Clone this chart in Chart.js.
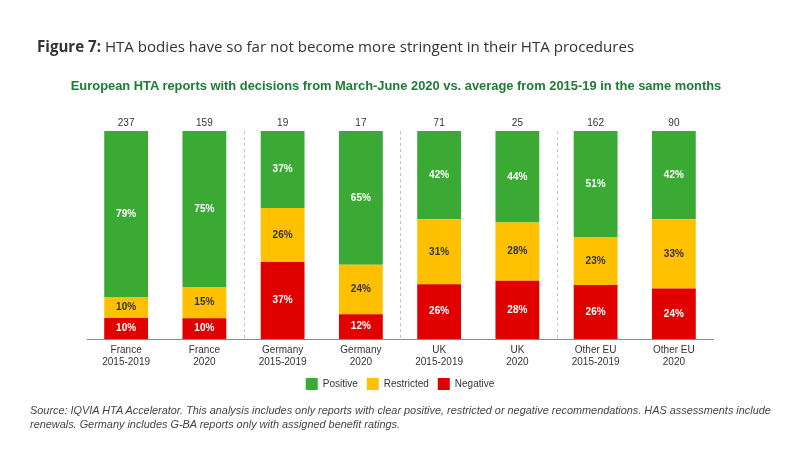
<!DOCTYPE html>
<html>
<head>
<meta charset="utf-8">
<script src="https://cdn.jsdelivr.net/npm/chart.js@4"></script>
<style>
  body { margin: 0; background: #fff; }
  #wrap { position: relative; width: 800px; height: 450px; overflow: hidden; }
  #chart { position: absolute; left: 0; top: 0; }
  .title { position: absolute; left: 37px; top: 36px; font-family: "Open Sans", sans-serif; font-size: 15.1px; color: #333; white-space: nowrap; }
  .subtitle { position: absolute; left: 0; width: 792px; top: 78px; text-align: center; font-family: "Liberation Sans", Arial, sans-serif; font-weight: bold; font-size: 12.9px; color: #1f7a36; white-space: nowrap; }
  .note { position: absolute; left: 30px; top: 403px; font-family: "Liberation Sans", Arial, sans-serif; font-style: italic; font-size: 10.9px; line-height: 14px; color: #444; white-space: nowrap; }
</style>
</head>
<body>
<div id="wrap">
  <canvas id="chart" width="800" height="450"></canvas>
  <div class="title"><b>Figure 7:</b> HTA bodies have so far not become more stringent in their HTA procedures</div>
  <div class="subtitle">European HTA reports with decisions from March-June 2020 vs. average from 2015-19 in the same months</div>
  <div class="note">Source: IQVIA HTA Accelerator. This analysis includes only reports with clear positive, restricted or negative recommendations. HAS assessments include<br>renewals. Germany includes G-BA reports only with assigned benefit ratings.</div>
</div>
<script>
// Datos del gráfico
const categories = [
    ["France", "2015-2019"], ["France", "2020"],
    ["Germany", "2015-2019"], ["Germany", "2020"],
    ["UK", "2015-2019"], ["UK", "2020"],
    ["Other EU", "2015-2019"], ["Other EU", "2020"]
];
const totals = [237, 159, 19, 17, 71, 25, 162, 90];
const positive = [79, 75, 37, 65, 42, 44, 51, 42];
const restricted = [10, 15, 26, 24, 31, 28, 23, 33];
const negative = [10, 10, 37, 12, 26, 28, 26, 24];

const font = "'Liberation Sans', Arial, sans-serif";

// Cada columna se lleva a 100% (las etiquetas muestran el valor leído)
function share(values) {
    return values.map((v, i) => v / (positive[i] + restricted[i] + negative[i]) * 100);
}

// Etiquetas dentro de las barras, totales arriba y separadores punteados
const extras = {
    id: "extras",
    afterDatasetsDraw(chart) {
        const ctx = chart.ctx;
        const area = chart.chartArea;
        const x = chart.scales.x;
        ctx.save();
        ctx.textAlign = "center";
        ctx.textBaseline = "middle";
        chart.data.datasets.forEach((ds, di) => {
            const meta = chart.getDatasetMeta(di);
            ctx.fillStyle = ds.textColor;
            ctx.font = "bold 10px " + font;
            meta.data.forEach((bar, i) => {
                const mid = (bar.y + bar.base) / 2;
                ctx.fillText(ds.raw[i] + "%", bar.x, mid);
            });
        });
        ctx.fillStyle = "#333";
        ctx.font = "10px " + font;
        totals.forEach((t, i) => {
            ctx.fillText(t, x.getPixelForValue(i), area.top - 8);
        });
        ctx.strokeStyle = "#b8c4c0";
        ctx.lineWidth = 1;
        ctx.setLineDash([3, 3]);
        [1.5, 3.5, 5.5].forEach((pos) => {
            const px = Math.round(x.getPixelForValue(pos)) + 0.5;
            ctx.beginPath();
            ctx.moveTo(px, area.top);
            ctx.lineTo(px, area.bottom);
            ctx.stroke();
        });
        ctx.restore();
    }
};

const config = {
    type: "bar",
    data: {
        labels: categories,
        datasets: [
            { label: "Negative", data: share(negative), raw: negative, backgroundColor: "#e00000", textColor: "#ffffff" },
            { label: "Restricted", data: share(restricted), raw: restricted, backgroundColor: "#ffc000", textColor: "#333333" },
            { label: "Positive", data: share(positive), raw: positive, backgroundColor: "#3aaa35", textColor: "#ffffff" }
        ]
    },
    options: {
        responsive: false,
        animation: false,
        layout: { padding: { left: 87, right: 87, top: 131, bottom: 50 } },
        datasets: { bar: { barPercentage: 0.56, categoryPercentage: 1 } },
        scales: {
            x: {
                stacked: true,
                grid: { display: false, drawTicks: false },
                border: { color: "#8a8a8a", width: 1 },
                ticks: { color: "#333", font: { family: font, size: 10 }, padding: 5, maxRotation: 0 },
                afterFit(scale) { scale.height = 30; }
            },
            y: { stacked: true, display: false, min: 0, max: 100 }
        },
        plugins: {
            legend: {
                position: "bottom",
                reverse: true,
                labels: { boxWidth: 12, boxHeight: 12, padding: 9, color: "#333", font: { family: font, size: 10 } }
            },
            tooltip: { enabled: false }
        }
    },
    plugins: [extras]
};

new Chart(document.getElementById("chart"), config);
</script>
</body>
</html>
